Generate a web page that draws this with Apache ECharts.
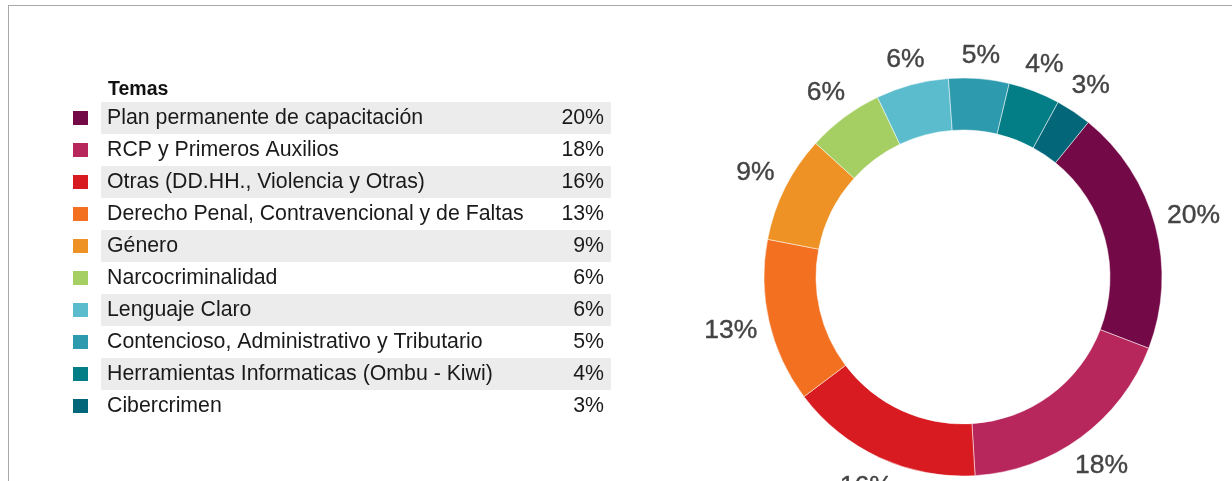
<!DOCTYPE html>
<html>
<head>
<meta charset="utf-8">
<script src="https://cdn.jsdelivr.net/npm/echarts@6/dist/echarts.min.js"></script>
<style>
  html, body { margin: 0; padding: 0; background: #fff; overflow: hidden; }
  #chart { width: 1232px; height: 481px; }
  .frame { position: absolute; left: 8px; top: 5px; width: 1400px; height: 700px; border: 1px solid #a8a8a8; pointer-events: none; }
</style>
</head>
<body>
<div id="chart"></div>
<div class="frame"></div>
<script>
// Temas de capacitacion y su porcentaje
const temas = [
  'Plan permanente de capacitación',
  'RCP y Primeros Auxilios',
  'Otras (DD.HH., Violencia y Otras)',
  'Derecho Penal, Contravencional y de Faltas',
  'Género',
  'Narcocriminalidad',
  'Lenguaje Claro',
  'Contencioso, Administrativo y Tributario',
  'Herramientas Informaticas (Ombu - Kiwi)',
  'Cibercrimen'
];
const valores = [20.0, 18.2, 15.7, 13.3, 8.7, 6.2, 5.9, 4.9, 4.2, 2.9];
const etiquetas = ['20%', '18%', '16%', '13%', '9%', '6%', '6%', '5%', '4%', '3%'];
const colores = ['#730a47', '#b7275b', '#d81b21', '#f37021', '#ee9226',
                 '#a5cf63', '#5bbcce', '#2e9aae', '#037e87', '#036679'];

const FONT = '"Liberation Sans", Arial, sans-serif';
const CENTRO = [963, 277];
const RADIO = [147, 199];
const datos = temas.map((t, i) => ({ name: t, value: valores[i] }));

const chart = echarts.init(document.getElementById('chart'));

function fila(gris, extra) {
  const s = { height: 32, lineHeight: 32, fontFamily: FONT, fontSize: 21.3, color: '#1a1a1a' };
  if (gris) s.backgroundColor = '#ececec';
  return Object.assign(s, extra);
}

chart.setOption({
  animation: false,
  color: colores,
  title: {
    text: 'Temas',
    left: 103,
    top: 75,
    textStyle: { fontFamily: FONT, fontSize: 19.5, fontWeight: 'bold', color: '#111' }
  },
  legend: {
    orient: 'vertical',
    left: 71,
    top: 102,
    padding: 0,
    itemGap: 0,
    itemWidth: 17,
    itemHeight: 16,
    icon: 'rect',
    selectedMode: false,
    data: temas,
    formatter: function (name) {
      const i = temas.indexOf(name);
      const g = i % 2 === 0 ? 'g' : '';
      return '{s| }{n' + g + '|' + name + '}{p' + g + '|' + etiquetas[i] + '}';
    },
    textStyle: {
      fontFamily: FONT,
      fontSize: 21.3,
      color: '#1a1a1a',
      rich: {
        s: { width: 7, height: 32 },
        n: fila(false, { width: 424, padding: [0, 0, 0, 6] }),
        p: fila(false, { width: 73, padding: [0, 7, 0, 0], align: 'right' }),
        ng: fila(true, { width: 424, padding: [0, 0, 0, 6] }),
        pg: fila(true, { width: 73, padding: [0, 7, 0, 0], align: 'right' })
      }
    }
  },
  series: [
    {
      name: 'Temas',
      type: 'pie',
      center: CENTRO,
      radius: RADIO,
      startAngle: 51,
      silent: true,
      itemStyle: { borderColor: '#fff', borderWidth: 0.5 },
      label: {
        show: true,
        position: 'inside',
        formatter: p => etiquetas[p.dataIndex],
        fontFamily: FONT,
        fontSize: 26.5,
        color: '#444',
        textBorderColor: '#444',
        textBorderWidth: 0.4
      },
      // mueve cada etiqueta hacia afuera hasta quedar a una distancia fija del anillo
      labelLayout: function (p) {
        const r = p.labelRect;
        const hw = r.width / 2, hh = r.height / 2;
        const vx = r.x + hw - CENTRO[0], vy = r.y + hh - CENTRO[1];
        const d = Math.sqrt(vx * vx + vy * vy);
        const ux = vx / d, uy = vy / d;
        const objetivo = RADIO[1] + 11 + hw * Math.abs(ux) + (hh - 3) * Math.abs(uy);
        return { dx: ux * (objetivo - d), dy: uy * (objetivo - d) };
      },
      labelLine: { show: false },
      data: datos
    }
  ]
});
</script>
</body>
</html>
